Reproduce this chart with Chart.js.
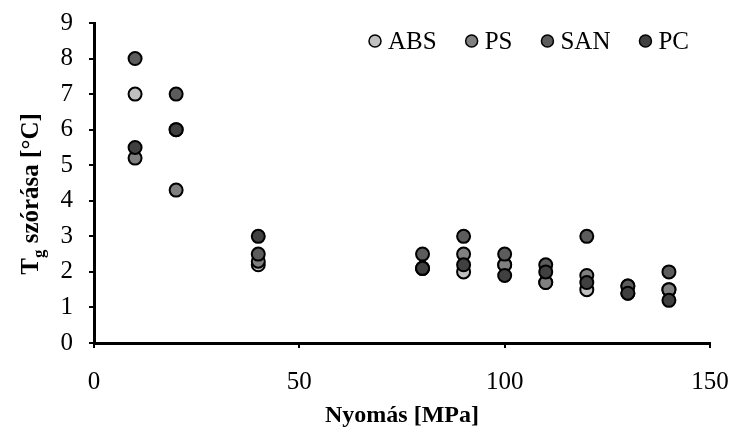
<!DOCTYPE html>
<html>
<head>
<meta charset="utf-8">
<script src="https://cdn.jsdelivr.net/npm/chart.js@4"></script>
<style>
  body { margin: 0; background: #fff; }
  #wrap { width: 736px; height: 434px; }
</style>
</head>
<body>
<div id="wrap"><canvas id="chart"></canvas></div>
<script>
const pressure = [10, 20, 40, 80, 90, 100, 110, 120, 130, 140];
const absValues = [7.0, 6.0, 2.2, 2.1, 2.0, 2.2, 1.7, 1.5, 1.6, 1.5];
const psValues  = [5.2, 4.3, 2.3, 2.1, 2.5, 2.2, 1.7, 1.9, 1.4, 1.5];
const sanValues = [8.0, 7.0, 2.5, 2.5, 3.0, 2.5, 2.2, 3.0, 1.6, 2.0];
const pcValues  = [5.5, 6.0, 3.0, 2.1, 2.2, 1.9, 2.0, 1.7, 1.4, 1.2];
const xTicks = [0, 50, 100, 150];
const yTicks = [0, 1, 2, 3, 4, 5, 6, 7, 8, 9];

const serif = 'Liberation Serif';
const toPoints = vals => pressure.map((p, i) => ({ x: p, y: vals[i] }));

function series(label, vals, color, order) {
    return {
        label: label,
        data: toPoints(vals),
        backgroundColor: color,
        borderColor: '#000',
        borderWidth: 2,
        pointRadius: 6.5,
        order: order
    };
}

// legend drawn inside the plot, top right
const insideLegend = {
    id: 'insideLegend',
    afterDraw(chart) {
        const c = chart.ctx;
        let x = 375;
        const y = 41;
        c.save();
        c.font = '25px "Liberation Serif"';
        c.textBaseline = 'middle';
        chart.data.datasets.forEach(ds => {
            c.beginPath();
            c.arc(x, y, 6, 0, Math.PI * 2);
            c.fillStyle = ds.backgroundColor;
            c.fill();
            c.lineWidth = 1.5;
            c.strokeStyle = '#000';
            c.stroke();
            c.fillStyle = '#000';
            c.fillText(ds.label, x + 13, y + 1);
            x += 13 + c.measureText(ds.label).width + 35;
        });
        c.restore();
    }
};

// y title with subscript g
const yTitle = {
    id: 'yTitle',
    afterDraw(chart) {
        const c = chart.ctx;
        const big = 'bold 25px "Liberation Serif"';
        const small = 'bold 17px "Liberation Serif"';
        const parts = [['T', big, 0], ['g', small, 6], [' szórása [°C]', big, 0]];
        c.save();
        let total = 0;
        parts.forEach(p => { c.font = p[1]; total += c.measureText(p[0]).width; });
        c.translate(29, 194);
        c.rotate(-Math.PI / 2);
        c.fillStyle = '#000';
        c.textBaseline = 'alphabetic';
        let x = -total / 2;
        parts.forEach(p => {
            c.font = p[1];
            c.fillText(p[0], x, 9 + p[2]);
            x += c.measureText(p[0]).width;
        });
        c.restore();
    }
};

new Chart(document.getElementById('chart'), {
    type: 'scatter',
    data: {
        datasets: [
            series('ABS', absValues, '#c0c0c0', 4),
            series('PS', psValues, '#808080', 3),
            series('SAN', sanValues, '#5c5c5c', 2),
            series('PC', pcValues, '#404040', 1)
        ]
    },
    options: {
        responsive: true,
        maintainAspectRatio: false,
        animation: false,
        layout: { padding: { top: 23, right: 26, left: 0, bottom: 0 } },
        plugins: {
            legend: { display: false },
            tooltip: { enabled: false }
        },
        scales: {
            x: {
                type: 'linear',
                min: 0,
                max: 150,
                afterBuildTicks: s => { s.ticks = xTicks.map(v => ({ value: v })); },
                afterFit: s => { s.height = 91; s.paddingLeft = 0; s.paddingRight = 0; },
                ticks: { color: '#000', font: { family: serif, size: 25 }, padding: 19 },
                grid: { drawOnChartArea: false, color: '#000', lineWidth: 2, tickLength: 5 },
                border: { color: '#000', width: 3 },
                title: {
                    display: true,
                    text: 'Nyomás [MPa]',
                    color: '#000',
                    font: { family: serif, size: 24, weight: 'bold' },
                    padding: { top: 2, bottom: 4 }
                }
            },
            y: {
                min: 0,
                max: 9,
                afterBuildTicks: s => { s.ticks = yTicks.map(v => ({ value: v })); },
                afterFit: s => { s.width = 94; s.paddingTop = 0; s.paddingBottom = 0; },
                ticks: { color: '#000', font: { family: serif, size: 25 }, padding: 16 },
                grid: { drawOnChartArea: false, color: '#000', lineWidth: 2, tickLength: 5 },
                border: { color: '#000', width: 3 }
            }
        }
    },
    plugins: [insideLegend, yTitle]
});
</script>
</body>
</html>
